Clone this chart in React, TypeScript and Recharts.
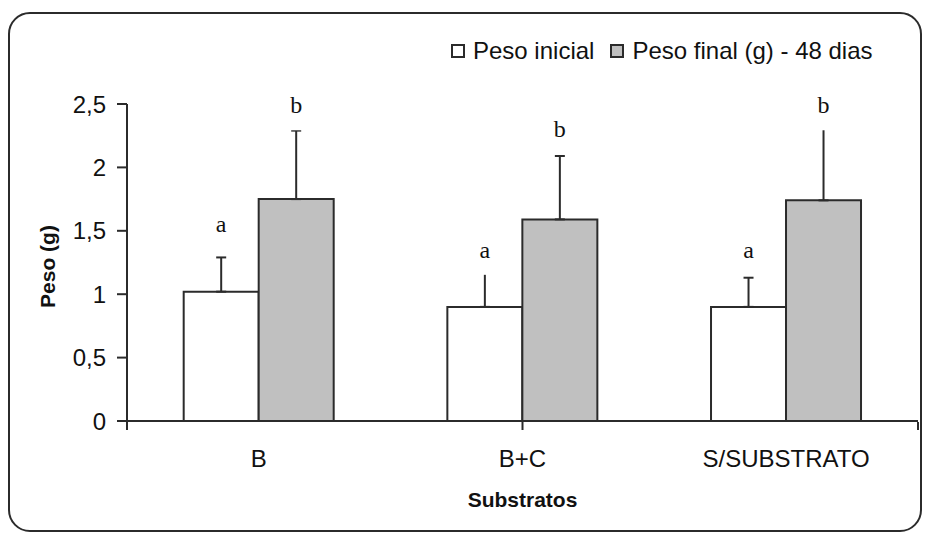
import { Bar, BarChart, ErrorBar, LabelList, XAxis, YAxis } from "recharts";

const CATEGORIES = ["B", "B+C", "S/SUBSTRATO"];
const PESO_INICIAL = [1.02, 0.9, 0.9];
const ERRO_INICIAL = [0.27, 0.27, 0.23];
const PESO_FINAL = [1.75, 1.59, 1.74];
const ERRO_FINAL = [0.54, 0.5, 0.57];
const LETRA_INICIAL = ["a", "a", "a"];
const LETRA_FINAL = ["b", "b", "b"];
// where the letters sit, in y units
const LETRA_Y_INICIAL = [1.55, 1.35, 1.35];
const LETRA_Y_FINAL = [2.49, 2.3, 2.49];
const Y_TICKS = [0, 0.5, 1, 1.5, 2, 2.5];
const EDGE_TICKS = [0, 1, 2, 3];

const data = CATEGORIES.map((name, i) => ({
  name,
  inicial: PESO_INICIAL[i],
  errIni: [0, ERRO_INICIAL[i]],
  final: PESO_FINAL[i],
  errFin: [0, ERRO_FINAL[i]],
}));

const INK = "#2b2b2b";
const SANS = "'Liberation Sans', Arial, sans-serif";

const letterLabel =
  (letters: string[], ys: number[], vals: number[]) => (p: any) => {
    const vb = p.viewBox ?? p;
    const i = p.index;
    const base = vb.y + vb.height;
    const scale = vb.height / vals[i];
    const cy = base - ys[i] * scale;
    const cx = vb.x + vb.width / 2;
    return (
      <g>
        <rect x={cx - 25} y={cy - 25} width={50} height={50} fill="#fff" />
        <text
          x={cx}
          y={cy}
          textAnchor="middle"
          dominantBaseline="central"
          fontFamily="'Liberation Serif', 'Times New Roman', serif"
          fontSize={24}
          fill="#111"
        >
          {letters[i]}
        </text>
      </g>
    );
  };

function LegendBox() {
  const items = [
    { label: "Peso inicial", fill: "#fff" },
    { label: "Peso final (g) - 48 dias", fill: "#C0C0C0" },
  ];
  return (
    <div
      style={{
        position: "absolute",
        left: 451,
        top: 37,
        display: "flex",
        alignItems: "center",
        fontFamily: SANS,
        fontSize: 24,
        color: "#111",
        whiteSpace: "nowrap",
      }}
    >
      {items.map((it, i) => (
        <div
          key={i}
          style={{ display: "flex", alignItems: "center", marginRight: 16 }}
        >
          <span
            style={{
              display: "inline-block",
              width: 10,
              height: 10,
              border: `2px solid ${INK}`,
              background: it.fill,
              marginRight: 8,
            }}
          />
          <span>{it.label}</span>
        </div>
      ))}
    </div>
  );
}

export default function App() {
  return (
    <div
      style={{
        position: "absolute",
        left: 0,
        top: 0,
        width: 927,
        height: 535,
        background: "#fff",
      }}
    >
      <div
        style={{
          position: "absolute",
          left: 8,
          top: 12,
          width: 914,
          height: 520,
          boxSizing: "border-box",
          border: `2px solid ${INK}`,
          borderRadius: 22,
        }}
      />
      <BarChart
        width={927}
        height={535}
        data={data}
        margin={{ top: 104, right: 9, bottom: 112, left: 7 }}
        barCategoryGap="21.5%"
        barGap={0}
        style={{ position: "absolute", left: 0, top: 0 }}
      >
        <XAxis
          dataKey="name"
          height={1}
          tickLine={false}
          tickSize={0}
          tickMargin={29}
          axisLine={{ stroke: INK, strokeWidth: 2 }}
          tick={{ fill: "#111", fontSize: 24, fontFamily: SANS }}
          label={{
            content: ({ viewBox }: any) => (
              <text
                x={viewBox.x + viewBox.width / 2}
                y={viewBox.y + 78}
                textAnchor="middle"
                dominantBaseline="central"
                fontFamily={SANS}
                fontWeight="bold"
                fontSize={21}
                fill="#111"
              >
                Substratos
              </text>
            ),
          }}
        />
        <XAxis
          xAxisId="edges"
          type="number"
          domain={[0, 3]}
          ticks={EDGE_TICKS}
          height={1}
          axisLine={false}
          tickSize={8}
          tickLine={{ stroke: INK, strokeWidth: 2 }}
          tickFormatter={() => ""}
        />
        <YAxis
          width={120}
          domain={[0, 2.5]}
          ticks={Y_TICKS}
          tickSize={10}
          tickMargin={11}
          tickFormatter={(v: number) => String(v).replace(".", ",")}
          axisLine={{ stroke: INK, strokeWidth: 2 }}
          tickLine={{ stroke: INK, strokeWidth: 2 }}
          tick={{ fill: "#111", fontSize: 24, fontFamily: SANS }}
          label={{
            content: ({ viewBox }: any) => {
              const cx = viewBox.x + 40;
              const cy = viewBox.y + viewBox.height / 2 + 4;
              return (
                <text
                  x={cx}
                  y={cy}
                  transform={`rotate(-90 ${cx} ${cy})`}
                  textAnchor="middle"
                  dominantBaseline="central"
                  fontFamily={SANS}
                  fontWeight="bold"
                  fontSize={21}
                  fill="#111"
                >
                  Peso (g)
                </text>
              );
            },
          }}
        />
        <Bar
          dataKey="inicial"
          fill="#fff"
          stroke={INK}
          strokeWidth={2}
          isAnimationActive={false}
        >
          <ErrorBar
            dataKey="errIni"
            direction="y"
            width={5}
            stroke={INK}
            strokeWidth={2}
          />
          <LabelList
            dataKey="inicial"
            content={letterLabel(LETRA_INICIAL, LETRA_Y_INICIAL, PESO_INICIAL)}
          />
        </Bar>
        <Bar
          dataKey="final"
          fill="#C0C0C0"
          stroke={INK}
          strokeWidth={2}
          isAnimationActive={false}
        >
          <ErrorBar
            dataKey="errFin"
            direction="y"
            width={5}
            stroke={INK}
            strokeWidth={2}
          />
          <LabelList
            dataKey="final"
            content={letterLabel(LETRA_FINAL, LETRA_Y_FINAL, PESO_FINAL)}
          />
        </Bar>
      </BarChart>
      <LegendBox />
    </div>
  );
}
